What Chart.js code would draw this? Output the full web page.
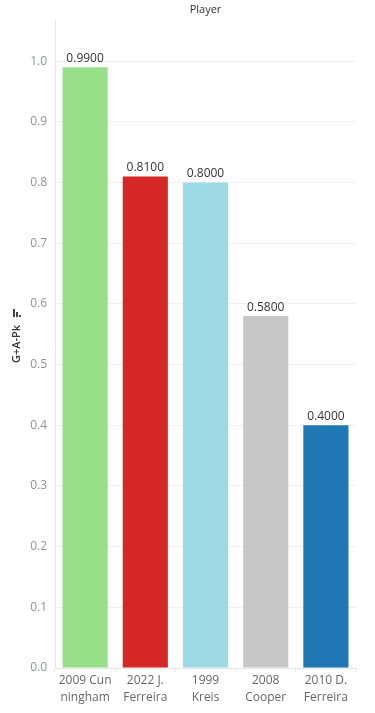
<!DOCTYPE html>
<html>
<head>
<meta charset="utf-8">
<script src="https://cdn.jsdelivr.net/npm/chart.js@4"></script>
<style>
  html, body { margin: 0; padding: 0; background: #fff; }
  #wrap { width: 375px; height: 713px; }
</style>
</head>
<body>
<div id="wrap"><canvas id="c"></canvas></div>
<script>
// data
const players = [["2009 Cun", "ningham"], ["2022 J.", "Ferreira"], ["1999", "Kreis"], ["2008", "Cooper"], ["2010 D.", "Ferreira"]];
const gaPk = [0.99, 0.81, 0.80, 0.58, 0.40];
const barColors = ["#98df8a", "#d62728", "#9edae5", "#c7c7c7", "#1f77b4"];
const chartTitle = "Player";
const yTitle = "G+A-Pk";

const FONT = "'Open Sans', 'Noto Sans', sans-serif";

// labels above bars, the header and the rotated measure name
const extras = {
  id: "extras",
  afterDatasetsDraw(chart) {
    const ctx = chart.ctx;
    const area = chart.chartArea;
    ctx.save();
    // values on top of bars
    ctx.font = "12px " + FONT;
    ctx.fillStyle = "#333";
    ctx.textAlign = "center";
    ctx.textBaseline = "bottom";
    chart.getDatasetMeta(0).data.forEach((bar, i) => {
      ctx.fillText(gaPk[i].toFixed(4), bar.x, bar.y - 3);
    });
    // header
    ctx.font = "11px " + FONT;
    ctx.fillStyle = "#333";
    ctx.textBaseline = "middle";
    ctx.fillText(chartTitle, (area.left + area.right) / 2, 10);
    // y title, rotated
    const cy = (area.top + area.bottom) / 2;
    ctx.translate(17, cy);
    ctx.rotate(-Math.PI / 2);
    ctx.font = "600 11px " + FONT;
    ctx.fillStyle = "#333";
    ctx.textAlign = "center";
    ctx.fillText(yTitle, 0, 0);
    // sort icon
    ctx.fillStyle = "#444";
    const ix = 27;
    ctx.fillRect(ix, -4, 8, 2);
    ctx.fillRect(ix, -1, 5, 2);
    ctx.fillRect(ix, 2, 2, 2);
    ctx.restore();
  }
};

new Chart(document.getElementById("c"), {
  type: "bar",
  data: {
    labels: players,
    datasets: [{
      data: gaPk,
      backgroundColor: barColors,
      barPercentage: 0.75,
      categoryPercentage: 1.0
    }]
  },
  options: {
    responsive: true,
    maintainAspectRatio: false,
    animation: false,
    layout: { padding: { top: 20, right: 19, left: 0, bottom: 0 } },
    plugins: { legend: { display: false }, tooltip: { enabled: false } },
    scales: {
      x: {
        grid: { offset: true, drawOnChartArea: false, color: "#e6e6e6", tickLength: 4 },
        border: { color: "#e6e6e6" },
        ticks: { color: "#666", font: { family: FONT, size: 12, lineHeight: 1.4 }, padding: 0, maxRotation: 0, autoSkip: false },
        afterFit(s) { s.height = 45; }
      },
      y: {
        min: 0,
        max: 1.068,
        grid: { color: "#f0f0f0", drawTicks: false },
        border: { color: "#e6e6e6" },
        ticks: {
          stepSize: 0.1,
          color: "#8f939a",
          padding: 8,
          font: { family: FONT, size: 12 },
          callback: (v) => v.toFixed(1)
        },
        afterBuildTicks(s) { s.ticks = s.ticks.filter(t => t.value <= 1.0001); },
        afterFit(s) { s.width = 55; }
      }
    }
  },
  plugins: [extras]
});
</script>
</body>
</html>
